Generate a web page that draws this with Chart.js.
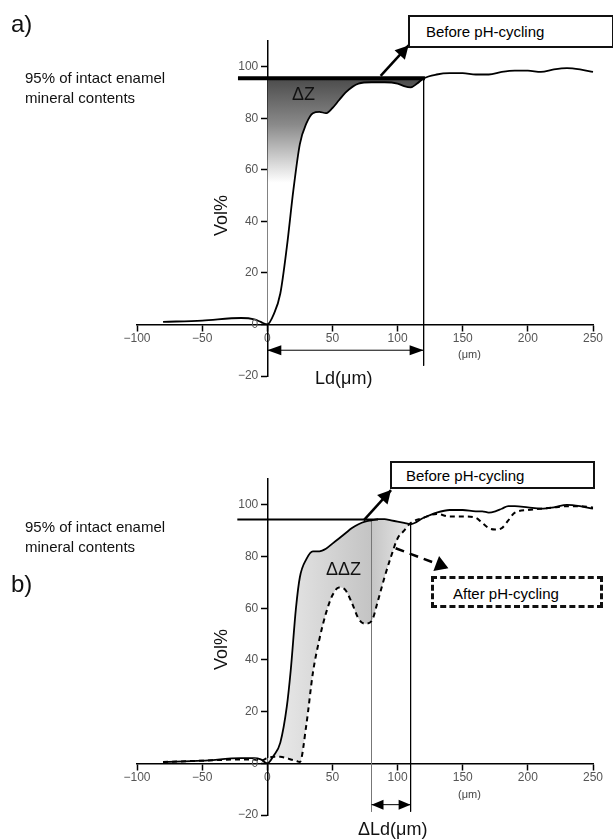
<!DOCTYPE html>
<html>
<head>
<meta charset="utf-8">
<script src="https://cdn.jsdelivr.net/npm/chart.js@4/dist/chart.umd.min.js"></script>
<style>
  body { margin: 0; background: #fff; font-family: "Liberation Sans", Arial, sans-serif; }
  #wrap { position: relative; width: 613px; height: 839px; }
  canvas { position: absolute; left: 0; }
  .t { position: absolute; color: #111; white-space: nowrap; }
  .box { position: absolute; border: 2px solid #111; background: #fff; font-size: 15px; box-sizing: border-box; }
  .dash { border: 3px dashed #111; }
</style>
</head>
<body>
<div id="wrap">
  <canvas id="chartA" width="613" height="420" style="top:0"></canvas>
  <canvas id="chartB" width="613" height="419" style="top:420px"></canvas>

  <div class="t" style="left:11px;top:10px;font-size:24px">a)</div>
  <div class="t" style="left:25px;top:68px;font-size:15px;line-height:20px">95% of intact enamel<br>mineral contents</div>
  <div class="box" style="left:408px;top:15px;width:206px;height:33px;padding:6px 0 0 16px">Before pH-cycling</div>
  <div class="t" style="left:292px;top:84px;font-size:18px">ΔZ</div>
  <div class="t" style="left:315px;top:368px;font-size:18px">Ld(μm)</div>
  <div class="t" style="left:458px;top:348px;font-size:11px;color:#444">(μm)</div>
  <div class="t" style="font-size:18px;transform:rotate(-90deg);transform-origin:left top;left:211px;top:236px">Vol%</div>

  <div class="t" style="left:11px;top:570px;font-size:24px">b)</div>
  <div class="t" style="left:25px;top:517px;font-size:15px;line-height:20px">95% of intact enamel<br>mineral contents</div>
  <div class="box" style="left:390px;top:461px;width:205px;height:28px;padding:4px 0 0 14px">Before pH-cycling</div>
  <div class="box dash" style="left:431px;top:576px;width:172px;height:32px;padding:6px 0 0 19px">After pH-cycling</div>
  <div class="t" style="left:326px;top:559px;font-size:18px">ΔΔZ</div>
  <div class="t" style="left:358px;top:819px;font-size:18px">ΔLd(μm)</div>
  <div class="t" style="left:458px;top:788px;font-size:11px;color:#444">(μm)</div>
  <div class="t" style="font-size:18px;transform:rotate(-90deg);transform-origin:left top;left:211px;top:670px">Vol%</div>
</div>
<script>
// panel a) profile before pH-cycling
const xA = [-80, -50, -20, -10, -5, 0, 5, 10, 15, 20, 25, 30, 35, 40, 45, 50, 55, 60, 70, 80, 90, 100, 105, 110, 115, 120, 130, 140, 150, 160, 170, 180, 190, 200, 210, 220, 230, 240, 250];
const yA = [1, 1.5, 2.5, 2, 1, 0, 4, 12, 30, 52, 70, 78, 82, 82.5, 82, 84, 87, 90, 93.5, 94, 94, 93.5, 92.5, 92, 93.5, 95.5, 97, 97.5, 97.5, 97, 97, 98, 98.5, 98.5, 98, 99, 99.5, 99, 98];
const levelA = 95.5;

// panel b) before and after pH-cycling
const xB = [-80, -50, -20, -10, -5, 0, 5, 10, 15, 18, 22, 25, 30, 35, 40, 45, 50, 55, 60, 65, 70, 75, 80, 85, 90, 95, 100, 105, 110, 120, 130, 140, 150, 160, 165, 170, 175, 180, 185, 190, 200, 210, 220, 230, 240, 250];
const beforeB = [0.5, 1, 2, 2, 1.5, 0, 3, 8, 22, 36, 60, 72, 79, 82, 82, 83, 85, 87, 89, 91, 92.5, 93.5, 94, 94.5, 94.5, 94, 93.5, 93, 92.5, 95, 97, 98, 98, 97.5, 97.5, 97, 97.5, 98.5, 99.5, 99.5, 99, 98.5, 99, 100, 99.5, 98.5];
const afterB = [0.5, 1, 1.5, 1.5, 1, 2, 2.5, 2.5, 2, 1.5, 1, 0.5, 15, 35, 48, 58, 65, 68, 67, 62, 56, 54, 55, 63, 72, 80, 87, 90, 93, 95, 96.5, 95.5, 95.5, 95, 93, 91, 90.5, 91, 94, 97, 98, 98.5, 99, 99.5, 99.5, 99];
const levelB = 94.3;

const xTicks = [-100, -50, 0, 50, 100, 150, 200, 250];
const yTicks = [-20, 0, 20, 40, 60, 80, 100];

const pts = (xs, ys, lo = -Infinity, hi = Infinity) =>
  xs.map((x, i) => ({ x: x, y: ys[i] })).filter(p => p.x >= lo && p.x <= hi);

const minus = (v) => String(v).replace("-", "\u2212");

function head(c, x1, y1, x2, y2, len, w) {
  const a = Math.atan2(y2 - y1, x2 - x1);
  c.beginPath();
  c.moveTo(x2, y2);
  c.lineTo(x2 - len * Math.cos(a) + w * Math.sin(a), y2 - len * Math.sin(a) - w * Math.cos(a));
  c.lineTo(x2 - len * Math.cos(a) - w * Math.sin(a), y2 - len * Math.sin(a) + w * Math.cos(a));
  c.closePath();
  c.fill();
}

// arrows given in data units, y tick labels left of the centred axis
const arrowPlugin = {
  id: "arrows",
  afterDraw(chart, args, opts) {
    const c = chart.ctx, sx = chart.scales.x, sy = chart.scales.y;
    c.save();
    c.fillStyle = "#555";
    c.font = "12px 'Liberation Sans', Arial, sans-serif";
    c.textAlign = "right";
    c.textBaseline = "middle";
    yTicks.forEach(v => c.fillText(minus(v), sx.getPixelForValue(0) - 9, sy.getPixelForValue(v)));
    c.fillStyle = "#000";
    c.strokeStyle = "#000";
    (opts.list || []).forEach(a => {
      const x1 = sx.getPixelForValue(a.from[0]), y1 = sy.getPixelForValue(a.from[1]);
      const x2 = sx.getPixelForValue(a.to[0]), y2 = sy.getPixelForValue(a.to[1]);
      c.lineWidth = a.width || 2;
      c.setLineDash(a.dash || []);
      c.beginPath();
      c.moveTo(x1, y1);
      c.lineTo(x2, y2);
      c.stroke();
      c.setLineDash([]);
      head(c, x1, y1, x2, y2, a.len || 12, a.w || 7);
      if (a.both) head(c, x2, y2, x1, y1, a.len || 12, a.w || 7);
    });
    c.restore();
  },
};

function scales() {
  return {
    x: {
      type: "linear", min: -100, max: 250,
      position: { y: 0 },
      afterBuildTicks: (ax) => { ax.ticks = xTicks.map(v => ({ value: v })); },
      grid: { drawOnChartArea: false, color: "#000", tickLength: 6, tickWidth: 1.5 },
      border: { color: "#000", width: 1.5 },
      ticks: { color: "#555", font: { size: 12 }, padding: 1, maxRotation: 0, callback: minus },
    },
    y: {
      type: "linear", min: -20, max: 110,
      position: { x: 0 },
      afterBuildTicks: (ax) => { ax.ticks = yTicks.map(v => ({ value: v })); },
      grid: { drawOnChartArea: false, color: "#000", tickLength: 6, tickWidth: 1.5 },
      border: { color: "#000", width: 1.5 },
      ticks: { display: false },
    },
  };
}

const line = (data, extra) => Object.assign({
  data: data, borderColor: "#000", borderWidth: 1.8, pointRadius: 0,
  cubicInterpolationMode: "monotone", fill: false,
}, extra);

new Chart(document.getElementById("chartA"), {
  type: "line",
  data: {
    datasets: [
      line(pts(xA, yA)),
      line([{ x: -22.5, y: levelA }, { x: 121, y: levelA }], { borderWidth: 4, cubicInterpolationMode: "default" }),
      line([{ x: 120, y: levelA }, { x: 120, y: -16 }], { borderWidth: 1, cubicInterpolationMode: "default" }),
      line(pts(xA, yA, 0, 120), {
        borderWidth: 0,
        fill: { value: levelA },
        backgroundColor: (ctx) => {
          const ch = ctx.chart;
          if (!ch.chartArea) return "#666";
          const sy = ch.scales.y;
          const g = ch.ctx.createLinearGradient(0, sy.getPixelForValue(96), 0, sy.getPixelForValue(55));
          g.addColorStop(0, "#4a4a4a");
          g.addColorStop(0.45, "#8a8a8a");
          g.addColorStop(1, "#ffffff");
          return g;
        },
      }),
    ],
  },
  options: {
    responsive: false, animation: false, clip: false,
    layout: { padding: { left: 137, right: 20, top: 41, bottom: 44 } },
    scales: scales(),
    plugins: {
      legend: { display: false }, tooltip: { enabled: false },
      arrows: { list: [
        { from: [87, 96.5], to: [108.4, 108.3], width: 2.5, len: 13, w: 7 },
        { from: [0, -10], to: [120, -10], width: 1, both: true, len: 14, w: 5 },
      ] },
    },
  },
  plugins: [arrowPlugin],
});

new Chart(document.getElementById("chartB"), {
  type: "line",
  data: {
    datasets: [
      line(pts(xB, beforeB)),
      line(pts(xB, afterB), { borderDash: [5, 4], borderWidth: 2 }),
      line([{ x: -23, y: levelB }, { x: 85, y: levelB }], { borderWidth: 2, cubicInterpolationMode: "default" }),
      line([{ x: 80, y: 94 }, { x: 80, y: -18.7 }], { borderWidth: 1, borderColor: "#777", cubicInterpolationMode: "default" }),
      line([{ x: 110, y: 92.5 }, { x: 110, y: -18.7 }], { borderWidth: 1, cubicInterpolationMode: "default" }),
      line(pts(xB, afterB, 0, 110), { borderWidth: 0 }),
      line(pts(xB, beforeB, 0, 110), {
        borderWidth: 0,
        fill: { target: 5 },
        backgroundColor: (ctx) => {
          const ch = ctx.chart;
          if (!ch.chartArea) return "#ccc";
          const sx = ch.scales.x;
          const g = ch.ctx.createLinearGradient(sx.getPixelForValue(0), 0, sx.getPixelForValue(110), 0);
          g.addColorStop(0, "#ececec");
          g.addColorStop(0.72, "#c4c4c4");
          g.addColorStop(1, "#e8e8e8");
          return g;
        },
      }),
    ],
  },
  options: {
    responsive: false, animation: false, clip: false,
    layout: { padding: { left: 137, right: 20, top: 59, bottom: 24 } },
    scales: scales(),
    plugins: {
      legend: { display: false }, tooltip: { enabled: false },
      arrows: { list: [
        { from: [74, 94], to: [95, 105.7], width: 2.5, len: 13, w: 7 },
        { from: [98.5, 83.2], to: [139, 75.5], width: 2.5, dash: [9, 6], len: 13, w: 8 },
        { from: [80, -16], to: [110, -16], width: 1, both: true, len: 12, w: 5 },
      ] },
    },
  },
  plugins: [arrowPlugin],
});
</script>
</body>
</html>
